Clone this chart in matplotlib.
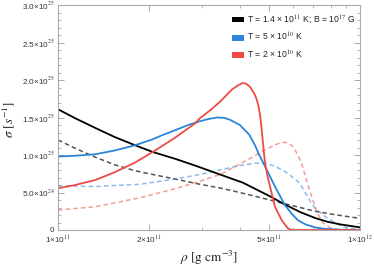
import numpy as np
import matplotlib
matplotlib.use("Agg")
import matplotlib.pyplot as plt
from matplotlib.patches import Patch
from matplotlib.ticker import FixedLocator, MultipleLocator, NullFormatter

plt.rcParams['mathtext.fontset'] = 'stix'
plt.rcParams['font.family'] = ['Liberation Sans', 'DejaVu Sans']

# density in units of 1e11 g cm^-3, sigma in units of 1e25 s^-1
rho_black = [1.0, 1.14, 1.33, 1.54, 1.8, 2.06, 2.44, 2.84, 3.44, 4.1, 4.49, 5.03, 5.64, 6.33, 7.1, 7.8, 8.6, 10.0]
sig_black = [1.61, 1.49, 1.36, 1.24, 1.13, 1.04, 0.95, 0.86, 0.74, 0.63, 0.55, 0.45, 0.34, 0.24, 0.16, 0.11, 0.075, 0.035]

rho_black_d = [1.0, 1.14, 1.33, 1.54, 1.8, 2.06, 2.44, 2.95, 3.44, 4.0, 4.49, 5.03, 5.64, 6.33, 7.1, 7.96, 8.9, 10.0]
sig_black_d = [1.20, 1.09, 0.97, 0.87, 0.79, 0.74, 0.68, 0.61, 0.56, 0.50, 0.45, 0.40, 0.35, 0.30, 0.25, 0.215, 0.185, 0.155]

rho_blue = [1.0, 1.14, 1.33, 1.54, 1.8, 2.06, 2.2, 2.44, 2.7, 2.95, 3.15, 3.36, 3.55, 3.71, 4.0, 4.3, 4.49, 4.64, 4.97, 5.23, 5.645, 5.96, 6.23, 6.6, 7.1, 7.5, 8.0, 8.6, 10.0]
sig_blue = [0.98, 0.99, 1.01, 1.06, 1.13, 1.21, 1.26, 1.33, 1.40, 1.45, 1.48, 1.50, 1.495, 1.47, 1.40, 1.27, 1.13, 1.00, 0.76, 0.58, 0.33, 0.21, 0.13, 0.075, 0.035, 0.02, 0.01, 0.004, 0.0]

rho_blue_d = [1.0, 1.33, 1.87, 2.44, 2.95, 3.44, 4.0, 4.49, 4.85, 5.23, 5.64, 6.0, 6.33, 6.58, 6.83, 7.1, 7.78, 8.78, 10.0]
sig_blue_d = [0.59, 0.58, 0.61, 0.68, 0.74, 0.80, 0.86, 0.89, 0.89, 0.85, 0.78, 0.70, 0.62, 0.50, 0.39, 0.29, 0.16, 0.04, 0.005]

rho_red = [1.0, 1.14, 1.33, 1.54, 1.8, 2.06, 2.44, 2.84, 2.95, 3.2, 3.44, 3.76, 3.95, 4.09, 4.2, 4.32, 4.4, 4.49, 4.55, 4.6, 4.67, 4.727, 4.774, 4.847, 4.94, 5.035, 5.23, 5.505, 5.775, 5.95, 10.0]
sig_red = [0.556, 0.60, 0.667, 0.77, 0.90, 1.04, 1.23, 1.42, 1.49, 1.60, 1.71, 1.87, 1.93, 1.96, 1.95, 1.91, 1.86, 1.80, 1.74, 1.67, 1.53, 1.33, 1.15, 0.89, 0.72, 0.58, 0.31, 0.13, 0.02, 0.0, 0.0]

rho_red_d = [1.0, 1.33, 1.87, 2.44, 2.95, 3.44, 4.0, 4.67, 4.85, 5.2, 5.43, 5.64, 5.85, 6.0, 6.23, 6.45, 6.7, 6.95, 7.2, 7.52, 7.96, 8.6, 10.0]
sig_red_d = [0.267, 0.31, 0.43, 0.55, 0.65, 0.74, 0.88, 1.03, 1.07, 1.13, 1.16, 1.17, 1.15, 1.11, 1.00, 0.85, 0.62, 0.42, 0.24, 0.10, 0.03, 0.0, 0.0]

legend_labels = ['T = 1.4 \u00d7 10$^{11}$ K; B = 10$^{17}$ G',
                 'T = 5 \u00d7 10$^{10}$ K',
                 'T = 2 \u00d7 10$^{10}$ K']

xtick_vals = [1e11, 2e11, 5e11, 1e12]
xtick_labels = ['1\u00d710$^{11}$', '2\u00d710$^{11}$', '5\u00d710$^{11}$', '1\u00d710$^{12}$']
ytick_vals = [0, 0.5e25, 1.0e25, 1.5e25, 2.0e25, 2.5e25, 3.0e25]
ytick_labels = ['0', '5.0\u00d710$^{24}$', '1.0\u00d710$^{25}$', '1.5\u00d710$^{25}$',
                '2.0\u00d710$^{25}$', '2.5\u00d710$^{25}$', '3.0\u00d710$^{25}$']

RHO_UNIT = 1e11
SIG_UNIT = 1e25

c_black = '#000000'
c_blue = '#2b86d9'
c_red = '#ef4b42'

fig = plt.figure(figsize=(3.74, 2.69), dpi=100)
ax = fig.add_axes([58/374, 1-230/269, 302/374, 225/269])

def arr(v, u):
    return np.asarray(v) * u

# dashed (lighter) curves
ax.plot(arr(rho_black_d, RHO_UNIT), arr(sig_black_d, SIG_UNIT), color='#555555', lw=1.1, ls=(0, (3, 2)))
ax.plot(arr(rho_blue_d, RHO_UNIT), arr(sig_blue_d, SIG_UNIT), color=c_blue, alpha=0.55, lw=1.1, ls=(0, (3, 2)))
ax.plot(arr(rho_red_d, RHO_UNIT), arr(sig_red_d, SIG_UNIT), color=c_red, alpha=0.55, lw=1.1, ls=(0, (3, 2)))
# solid curves
ax.plot(arr(rho_black, RHO_UNIT), arr(sig_black, SIG_UNIT), color=c_black, lw=1.3)
ax.plot(arr(rho_blue, RHO_UNIT), arr(sig_blue, SIG_UNIT), color=c_blue, lw=1.3)
ax.plot(arr(rho_red, RHO_UNIT), arr(sig_red, SIG_UNIT), color=c_red, lw=1.3)

ax.set_xscale('log')
ax.set_xlim(1e11, 1e12)
ax.set_ylim(0, 3.0e25)

ax.xaxis.set_major_locator(FixedLocator(xtick_vals))
ax.set_xticklabels(xtick_labels)
ax.xaxis.set_minor_locator(FixedLocator([k*1e11 for k in (3, 4, 6, 7, 8, 9)]))
ax.xaxis.set_minor_formatter(NullFormatter())
ax.yaxis.set_major_locator(FixedLocator(ytick_vals))
ax.set_yticklabels(ytick_labels)
ax.yaxis.set_minor_locator(MultipleLocator(0.1e25))

for s in ax.spines.values():
    s.set_color('#aaaaaa')
    s.set_linewidth(0.8)
ax.tick_params(which='both', direction='in', top=True, right=True, colors='#aaaaaa',
               labelcolor='#333333', labelsize=5.9, pad=2.5)
ax.tick_params(which='major', length=4, width=0.7)
ax.tick_params(which='minor', length=2.2, width=0.6)

ax.set_ylabel(r'$\sigma\ [s^{-1}]$', fontsize=9.5, color='#222222')
ax.yaxis.set_label_coords(-0.135, 0.49)
ax.set_xlabel(r'$\rho\ [\mathrm{g\ cm^{-3}}]$', fontsize=9.5, color='#222222')
ax.xaxis.set_label_coords(0.5, -0.085)

handles = [Patch(facecolor=c, edgecolor='none') for c in (c_black, c_blue, c_red)]
leg = ax.legend(handles, legend_labels, loc='upper right', bbox_to_anchor=(1.0, 0.985),
                frameon=False, fontsize=6.2, handlelength=1.4, handleheight=0.65,
                handletextpad=0.3, labelspacing=0.6, borderaxespad=0.2)
for t in leg.get_texts():
    t.set_color('#222222')

fig.savefig('out.png', dpi=100)
